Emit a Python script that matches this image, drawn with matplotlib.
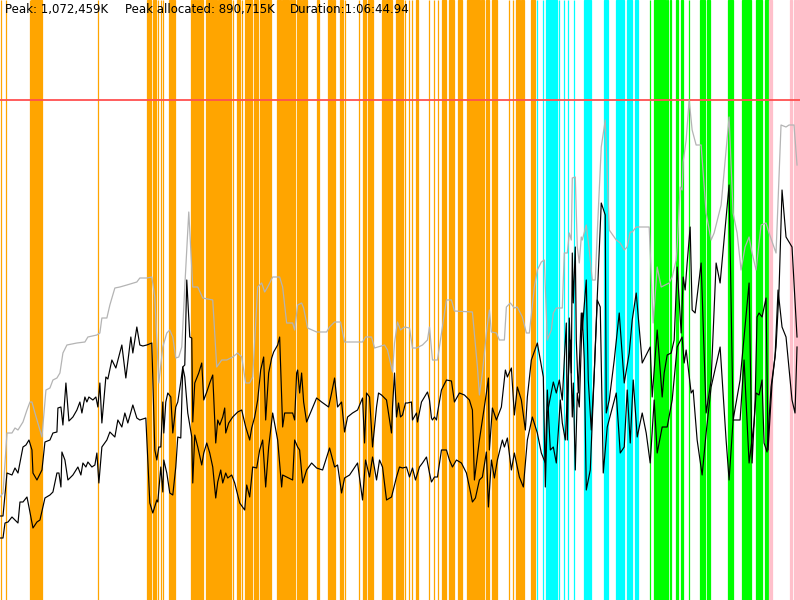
import matplotlib
matplotlib.use("Agg")
import matplotlib.pyplot as plt

# Heap profile: time in seconds, memory as percent of peak heap
peak_k = 1072459
peak_alloc_k = 890715
duration = 4004.94
header = ["Peak: 1,072,459K", "Peak allocated: 890,715K", "Duration:1:06:44.94"]

# total heap size (grey)
heap_t = [0, 15, 35, 60, 75, 90, 115, 135, 150, 160, 175, 210, 230, 250, 265, 285, 300, 315, 335, 385,
          425, 440, 485, 500, 510, 535, 550, 575, 600, 635, 685, 700, 735, 760, 775, 795, 815, 835, 850, 865,
          880, 895, 910, 925, 945, 965, 990, 1015, 1065, 1085, 1110, 1135, 1165, 1190, 1210, 1230, 1250, 1265, 1290, 1310,
          1325, 1340, 1365, 1400, 1415, 1435, 1465, 1475, 1490, 1510, 1520, 1540, 1585, 1635, 1650, 1675, 1705, 1725, 1815, 1830,
          1860, 1875, 1925, 1940, 1965, 1975, 1990, 2005, 2025, 2050, 2065, 2085, 2115, 2140, 2150, 2165, 2190, 2210, 2235, 2260,
          2275, 2365, 2390, 2400, 2415, 2435, 2450, 2460, 2485, 2500, 2525, 2535, 2555, 2575, 2590, 2615, 2635, 2650, 2675, 2690,
          2710, 2725, 2740, 2760, 2770, 2785, 2815, 2825, 2840, 2850, 2860, 2865, 2880, 2890, 2900, 2910, 2915, 2935, 2950, 2965,
          2980, 2990, 3010, 3030, 3050, 3085, 3105, 3125, 3140, 3155, 3165, 3185, 3250, 3270, 3290, 3310, 3350, 3365, 3385, 3390,
          3405, 3415, 3420, 3435, 3450, 3465, 3485, 3510, 3535, 3560, 3575, 3610, 3650, 3670, 3690, 3710, 3730, 3750, 3765, 3785,
          3810, 3835, 3850, 3885, 3910, 3935, 3950, 3975, 3990]
heap_v = [20.6, 21.4, 33.4, 33.4, 34.4, 34.0, 35.6, 38.0, 39.6, 39.6, 37.4, 32.6, 42.0, 42.4, 44.0, 44.4, 45.4, 49.4, 51.0, 51.4,
          51.6, 52.6, 53.0, 53.4, 56.4, 56.4, 59.0, 62.4, 62.6, 63.0, 63.6, 64.4, 64.4, 64.6, 60.6, 43.4, 50.6, 53.4, 54.0, 52.6,
          48.4, 48.6, 50.6, 62.6, 77.6, 62.6, 62.6, 60.4, 60.0, 46.6, 48.0, 48.0, 48.6, 49.4, 48.6, 43.4, 43.4, 44.6, 62.6, 63.4,
          61.6, 62.6, 64.6, 64.6, 62.6, 55.4, 55.4, 54.0, 59.0, 59.4, 58.4, 54.4, 53.6, 53.6, 54.6, 55.6, 55.6, 51.6, 51.6, 52.6,
          52.6, 50.4, 51.0, 50.0, 45.6, 51.4, 55.6, 54.0, 54.6, 54.4, 50.4, 50.4, 51.0, 52.0, 54.6, 48.0, 48.0, 53.4, 60.0, 60.0,
          57.8, 57.6, 46.6, 41.0, 45.4, 53.4, 58.0, 53.6, 53.4, 52.0, 52.0, 58.6, 59.4, 58.4, 58.6, 56.6, 53.4, 53.4, 62.6, 66.0,
          67.6, 68.0, 52.0, 54.0, 57.4, 58.4, 58.4, 69.4, 69.4, 73.4, 72.0, 84.4, 84.6, 70.6, 67.4, 72.6, 72.0, 75.0, 70.0, 64.0,
          64.0, 73.4, 90.6, 96.0, 74.0, 72.0, 71.4, 70.0, 70.6, 73.6, 73.6, 74.6, 74.6, 55.4, 66.6, 62.6, 63.4, 64.6, 68.0, 70.6,
          82.6, 82.0, 87.6, 92.0, 100.0, 94.0, 91.0, 91.0, 77.4, 72.0, 73.4, 79.0, 96.6, 77.4, 73.4, 66.0, 70.6, 72.6, 69.4, 66.0,
          75.0, 75.4, 73.4, 69.4, 95.0, 94.6, 95.0, 95.0, 87.0]

# first black series
live_t = [0, 15, 35, 60, 75, 90, 115, 130, 145, 160, 165, 185, 210, 225, 250, 265, 285, 290, 305, 315,
          330, 345, 365, 385, 400, 410, 425, 435, 445, 465, 480, 490, 500, 510, 530, 540, 560, 580, 610, 630,
          655, 665, 685, 700, 715, 735, 760, 775, 785, 795, 805, 815, 820, 830, 840, 855, 865, 880, 890, 905,
          915, 925, 935, 950, 960, 965, 975, 995, 1010, 1020, 1035, 1050, 1065, 1080, 1090, 1100, 1115, 1125, 1130, 1145,
          1165, 1190, 1210, 1230, 1250, 1260, 1275, 1290, 1305, 1320, 1330, 1345, 1360, 1370, 1390, 1400, 1415, 1425, 1465, 1475,
          1485, 1490, 1500, 1510, 1520, 1535, 1560, 1585, 1610, 1645, 1660, 1675, 1690, 1710, 1725, 1740, 1765, 1790, 1815, 1825,
          1835, 1850, 1865, 1885, 1895, 1910, 1935, 1960, 1965, 1975, 1985, 1995, 2005, 2015, 2030, 2040, 2060, 2065, 2085, 2090,
          2110, 2125, 2140, 2150, 2160, 2165, 2175, 2185, 2190, 2210, 2235, 2260, 2275, 2300, 2325, 2350, 2365, 2375, 2400, 2415,
          2435, 2445, 2450, 2465, 2485, 2510, 2530, 2540, 2560, 2575, 2590, 2610, 2630, 2640, 2660, 2690, 2720, 2730, 2740, 2760,
          2770, 2785, 2800, 2815, 2825, 2835, 2840, 2850, 2860, 2865, 2870, 2880, 2885, 2895, 2910, 2915, 2935, 2945, 2960, 2975,
          2990, 3010, 3030, 3035, 3050, 3075, 3100, 3125, 3150, 3165, 3185, 3215, 3255, 3265, 3290, 3315, 3325, 3340, 3360, 3375,
          3390, 3410, 3420, 3430, 3440, 3455, 3465, 3480, 3510, 3535, 3560, 3585, 3605, 3650, 3670, 3705, 3750, 3765, 3780, 3790,
          3800, 3815, 3835, 3845, 3865, 3885, 3900, 3915, 3935, 3965, 3990]
live_v = [16.8, 16.8, 25.4, 25.0, 26.4, 25.4, 30.6, 31.0, 32.0, 30.0, 25.4, 24.0, 26.0, 31.6, 32.0, 33.4, 33.6, 38.4, 38.6, 35.0,
          43.4, 35.8, 36.6, 38.0, 39.6, 37.4, 40.6, 39.6, 40.6, 40.0, 40.6, 38.6, 43.4, 35.4, 44.6, 44.2, 48.0, 46.4, 51.0, 44.4,
          52.6, 49.4, 54.6, 51.0, 50.8, 51.0, 51.4, 30.0, 28.0, 30.6, 30.6, 39.6, 33.4, 39.6, 41.4, 40.6, 33.4, 38.6, 39.6, 43.6,
          46.6, 47.0, 64.0, 52.6, 52.4, 35.6, 43.4, 45.4, 47.4, 40.0, 41.6, 43.4, 45.0, 31.4, 36.0, 35.0, 36.6, 38.4, 33.4, 35.4,
          36.6, 37.6, 38.0, 34.6, 32.0, 34.4, 36.6, 40.0, 46.0, 48.6, 36.0, 45.4, 48.4, 49.6, 51.0, 52.6, 34.6, 37.4, 37.4, 36.0,
          45.4, 46.0, 41.4, 45.4, 39.6, 35.6, 38.0, 40.4, 39.6, 38.6, 41.4, 44.4, 38.6, 39.6, 33.6, 36.6, 37.4, 38.0, 40.4, 31.4,
          41.4, 40.6, 30.6, 38.6, 41.4, 41.0, 40.0, 33.4, 38.6, 45.4, 36.6, 39.4, 36.6, 37.0, 39.4, 39.4, 39.6, 36.0, 37.4, 35.6,
          39.6, 40.6, 41.6, 40.0, 36.4, 36.0, 36.6, 36.0, 37.4, 42.0, 44.0, 43.8, 39.6, 41.4, 41.0, 40.0, 38.0, 24.0, 32.0, 36.0,
          41.4, 44.4, 30.0, 38.4, 36.0, 38.6, 46.0, 44.6, 46.4, 37.0, 42.6, 40.0, 34.0, 40.6, 48.0, 51.4, 44.6, 22.6, 37.4, 41.6,
          43.6, 41.4, 44.0, 40.0, 48.0, 55.4, 32.0, 56.4, 45.4, 69.4, 59.4, 70.6, 52.0, 41.4, 57.4, 54.0, 64.0, 44.0, 34.0, 45.4,
          60.6, 79.4, 77.0, 37.4, 40.0, 48.0, 57.4, 43.4, 49.4, 56.0, 61.4, 47.4, 50.6, 40.6, 54.0, 40.6, 45.4, 49.0, 49.4, 52.0,
          66.6, 53.4, 64.6, 62.0, 67.4, 74.6, 58.0, 57.4, 67.4, 37.4, 44.0, 67.4, 63.4, 83.0, 36.0, 44.0, 63.4, 27.4, 39.4, 56.6,
          57.4, 56.6, 60.4, 30.0, 43.4, 50.6, 62.0, 82.0, 72.6, 70.6, 52.6]

# second black series
used_t = [0, 15, 25, 40, 60, 75, 90, 100, 115, 135, 145, 165, 185, 200, 225, 250, 265, 285, 295, 305,
          310, 325, 340, 365, 390, 405, 415, 430, 440, 460, 475, 485, 495, 510, 535, 550, 575, 590, 610, 625,
          640, 665, 685, 700, 730, 750, 765, 785, 790, 805, 815, 820, 835, 850, 865, 880, 890, 905, 915, 925,
          940, 960, 965, 975, 990, 1010, 1020, 1035, 1050, 1065, 1080, 1090, 1105, 1115, 1130, 1140, 1160, 1175, 1200, 1225,
          1235, 1250, 1265, 1285, 1300, 1315, 1330, 1345, 1365, 1390, 1410, 1415, 1465, 1475, 1490, 1500, 1515, 1535, 1560, 1585,
          1615, 1650, 1675, 1690, 1710, 1725, 1750, 1790, 1815, 1830, 1850, 1865, 1885, 1900, 1915, 1935, 1960, 1985, 2000, 2015,
          2035, 2050, 2065, 2080, 2100, 2115, 2135, 2150, 2160, 2175, 2190, 2210, 2235, 2250, 2265, 2285, 2310, 2335, 2350, 2365,
          2380, 2400, 2415, 2435, 2445, 2460, 2475, 2490, 2515, 2525, 2540, 2560, 2575, 2600, 2620, 2640, 2665, 2690, 2710, 2730,
          2740, 2755, 2770, 2785, 2805, 2815, 2830, 2840, 2855, 2865, 2870, 2880, 2890, 2900, 2915, 2925, 2935, 2955, 2975, 2990,
          3005, 3020, 3040, 3085, 3105, 3125, 3140, 3155, 3170, 3190, 3215, 3235, 3255, 3275, 3290, 3315, 3340, 3365, 3390, 3415,
          3425, 3435, 3460, 3470, 3490, 3515, 3535, 3560, 3605, 3635, 3650, 3670, 3705, 3725, 3750, 3775, 3785, 3800, 3815, 3825,
          3840, 3860, 3880, 3895, 3915, 3935, 3965, 3980, 3990]
used_v = [12.4, 12.4, 15.4, 15.6, 16.6, 16.0, 15.4, 19.6, 19.6, 20.6, 18.6, 14.4, 15.6, 16.0, 20.4, 21.0, 21.6, 25.4, 25.4, 22.6,
          29.6, 28.0, 24.0, 25.0, 26.6, 25.0, 27.4, 26.6, 27.6, 26.6, 27.0, 29.4, 23.4, 30.6, 32.0, 33.6, 32.6, 36.0, 34.6, 37.4,
          35.4, 39.0, 36.4, 36.0, 36.4, 19.4, 17.4, 20.0, 19.6, 26.6, 21.6, 28.0, 25.4, 21.4, 21.0, 26.6, 32.6, 32.4, 46.6, 44.6,
          37.4, 32.6, 23.4, 33.0, 30.6, 27.0, 29.4, 31.4, 29.4, 26.6, 20.4, 23.6, 26.0, 23.4, 25.4, 24.4, 25.0, 23.4, 19.4, 18.0,
          23.0, 20.6, 26.6, 26.4, 30.0, 32.0, 22.6, 30.6, 37.4, 32.0, 22.6, 25.0, 24.0, 32.0, 30.6, 30.0, 23.4, 26.0, 27.4, 26.4,
          26.0, 30.4, 26.6, 27.0, 21.4, 24.4, 25.0, 27.4, 20.0, 28.0, 24.6, 28.6, 24.0, 28.0, 26.6, 20.0, 20.6, 24.6, 26.6, 26.4,
          26.6, 24.6, 26.4, 24.0, 26.6, 27.4, 28.6, 25.4, 23.6, 24.6, 24.6, 30.0, 30.0, 28.0, 26.6, 28.0, 27.4, 25.4, 22.6, 19.6,
          20.4, 24.0, 24.6, 29.6, 18.6, 28.0, 24.4, 28.0, 32.0, 30.6, 32.4, 26.0, 29.4, 24.6, 22.6, 32.0, 36.6, 33.4, 29.4, 27.4,
          42.0, 30.0, 30.6, 27.4, 40.0, 35.4, 32.0, 40.6, 52.0, 36.6, 43.4, 26.0, 41.4, 38.6, 57.4, 48.0, 22.0, 26.0, 45.4, 60.0,
          58.6, 25.4, 34.6, 41.4, 29.4, 30.6, 42.0, 31.4, 44.0, 32.6, 37.4, 33.4, 27.4, 40.0, 29.4, 34.6, 34.6, 40.0, 50.6, 52.6,
          47.4, 50.0, 41.4, 42.0, 32.0, 25.0, 33.4, 42.6, 50.6, 32.0, 24.0, 36.0, 36.0, 48.0, 27.4, 35.4, 41.4, 41.0, 44.0, 31.4,
          29.6, 42.6, 48.6, 62.0, 54.6, 52.6, 40.0, 37.4, 50.6]

# garbage collections: (start, end) in seconds, per generation colour
gc_orange = [(5, 5), (32, 32), (150, 152), (155, 210), (492, 492), (735, 757), (765, 780), (790, 790), (805, 805),
             (817, 817), (845, 875), (955, 962), (965, 980), (985, 990), (997, 1005), (1008, 1015), (1030, 1085),
             (1092, 1140), (1148, 1155), (1165, 1165), (1185, 1200), (1210, 1210), (1225, 1260), (1270, 1290),
             (1300, 1357), (1385, 1405), (1412, 1448), (1453, 1460), (1465, 1475), (1485, 1505), (1510, 1535),
             (1585, 1595), (1640, 1660), (1668, 1675), (1700, 1715), (1725, 1725), (1797, 1797), (1815, 1830),
             (1840, 1865), (1910, 1925), (1932, 1960), (1980, 2015), (2030, 2030), (2050, 2050), (2065, 2065),
             (2085, 2095), (2147, 2147), (2175, 2175), (2195, 2195), (2215, 2235), (2250, 2275), (2295, 2315),
             (2340, 2405), (2410, 2425), (2435, 2450), (2465, 2490), (2550, 2550), (2570, 2570), (2585, 2605),
             (2610, 2625), (2660, 2680)]
gc_cyan = [(2690, 2690), (2720, 2720), (2735, 2790), (2800, 2800), (2825, 2825), (2845, 2845), (2875, 2875),
           (2925, 2960), (3025, 3045), (3085, 3125), (3140, 3165), (3180, 3195)]
gc_green = [(3252, 3252), (3275, 3335), (3340, 3345), (3355, 3360), (3385, 3395), (3410, 3420), (3447, 3447),
            (3505, 3530), (3540, 3555), (3645, 3670), (3715, 3760), (3785, 3815), (3830, 3850)]
gc_pink = [(3850, 3865), (3955, 3965), (3975, 3985), (3990, 4000)]

fig = plt.figure(figsize=(8, 6), dpi=100)
ax = fig.add_axes([0, 0, 1, 1])

for spans, col in [(gc_orange, '#ffa500'), (gc_cyan, '#00ffff'),
                   (gc_green, '#00ff00'), (gc_pink, '#ffc0cb')]:
    for t0, t1 in spans:
        ax.axvspan(t0, t1, facecolor=col, edgecolor=col, lw=0.9, zorder=1)

ax.axhline(100, color='#ff5050', lw=1.3, zorder=2)
ax.plot(heap_t, heap_v, color='#b4b4b4', lw=0.9, zorder=3)
ax.plot(live_t, live_v, color='black', lw=0.85, zorder=4)
ax.plot(used_t, used_v, color='black', lw=0.85, zorder=4)

ax.set_xlim(0, duration)
ax.set_ylim(0, 120)
ax.axis('off')

# header text
for s, xp in zip(header, [5, 125, 290]):
    ax.text(xp / 800, 1 - 13 / 600, s, transform=ax.transAxes, fontsize=8.5,
            va='baseline', ha='left', color='black', zorder=5)

fig.savefig('out.png', dpi=100)
